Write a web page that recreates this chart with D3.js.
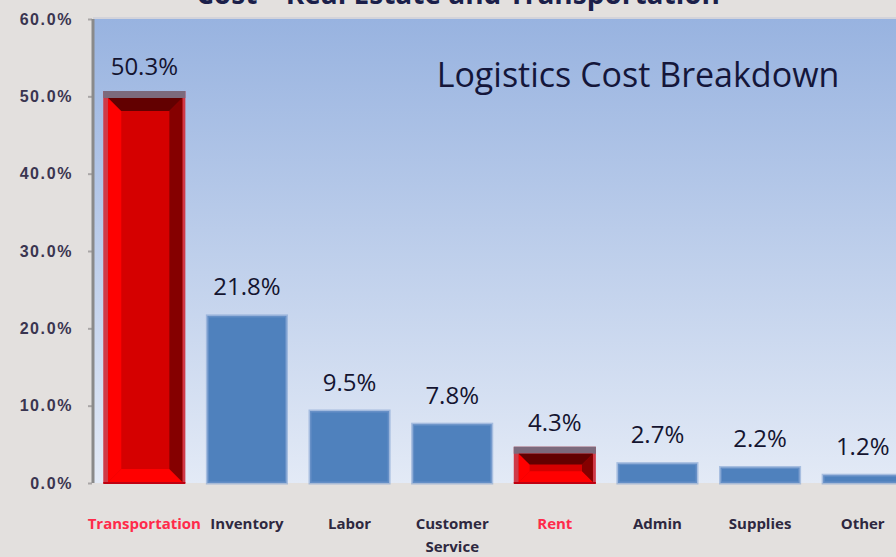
<!DOCTYPE html>
<html>
<head>
<meta charset="utf-8">
<script src="https://cdn.jsdelivr.net/npm/d3@7"></script>
<style>
  html, body { margin: 0; padding: 0; background: #e3e0de; overflow: hidden; }
  svg { display: block; font-family: "Open Sans", "Noto Sans", sans-serif; }
</style>
</head>
<body>
<div id="chart"></div>
<script>
// data
var categories = ["Transportation", "Inventory", "Labor", "Customer Service", "Rent", "Admin", "Supplies", "Other"];
var shares = [0.503, 0.218, 0.095, 0.078, 0.043, 0.027, 0.022, 0.012];
var highlighted = ["Transportation", "Rent"];
var yTicks = [0, 0.1, 0.2, 0.3, 0.4, 0.5, 0.6];
var chartTitle = "Cost \u2013 Real Estate and Transportation";
var innerTitle = "Logistics Cost Breakdown";

var width = 896, height = 557;
var margin = {top: 19, right: -18, bottom: 74, left: 93};

var data = categories.map(function(c, i) { return {name: c, value: shares[i]}; });

var svg = d3.select("#chart").append("svg")
  .attr("width", width)
  .attr("height", height);

var defs = svg.append("defs");
var grad = defs.append("linearGradient")
  .attr("id", "plotBg")
  .attr("x1", 0).attr("y1", 0).attr("x2", 0).attr("y2", 1);
grad.append("stop").attr("offset", "0%").attr("stop-color", "#98b3e0");
grad.append("stop").attr("offset", "100%").attr("stop-color", "#e3eaf6");

var x = d3.scaleBand()
  .domain(categories)
  .range([margin.left, width - margin.right])
  .paddingInner(0.2)
  .paddingOuter(0.1);

var y = d3.scaleLinear()
  .domain([0, 0.6])
  .range([height - margin.bottom, margin.top]);

// plot area
svg.append("rect")
  .attr("x", margin.left)
  .attr("y", y(0.6) - 2)
  .attr("width", width - margin.left)
  .attr("height", 2)
  .attr("fill", "#d3d3da");
svg.append("rect")
  .attr("x", margin.left)
  .attr("y", y(0.6))
  .attr("width", width - margin.left)
  .attr("height", y(0) - y(0.6))
  .attr("fill", "url(#plotBg)");

// page title, mostly cut off at the top (as in the source)
svg.append("text")
  .attr("x", 458)
  .attr("y", 4)
  .attr("text-anchor", "middle")
  .attr("font-size", 28)
  .attr("font-weight", "bold")
  .attr("fill", "#1b1f4a")
  .text(chartTitle);

// inner title
svg.append("text")
  .attr("x", 638)
  .attr("y", 87)
  .attr("text-anchor", "middle")
  .attr("font-size", 34)
  .attr("fill", "#14163a")
  .text(innerTitle);

// y axis
var yAxis = d3.axisLeft(y)
  .tickValues(yTicks)
  .tickFormat(d3.format(".1%"))
  .tickSize(4)
  .tickPadding(15);
var gy = svg.append("g")
  .attr("transform", "translate(" + (margin.left - 1) + ",0)")
  .call(yAxis);
gy.select(".domain").remove();
gy.selectAll(".tick line").attr("stroke", "#a9a6a6").attr("stroke-width", 2);
gy.selectAll(".tick text")
  .attr("font-size", 16)
  .attr("font-weight", "bold")
  .attr("letter-spacing", 1.6)
  .attr("fill", "#3a3550");
svg.append("line")
  .attr("x1", margin.left).attr("x2", margin.left)
  .attr("y1", y(0.6)).attr("y2", y(0))
  .attr("stroke", "#8a8a8a")
  .attr("stroke-width", 3);

// bars
var bars = svg.append("g");
data.forEach(function(d) {
  var x0 = x(d.name), w = x.bandwidth(), y0 = y(d.value), y1 = y(0), h = y1 - y0;
  if (highlighted.indexOf(d.name) < 0) {
    bars.append("rect")
      .attr("x", x0 + 1.5).attr("y", y0 + 1.5)
      .attr("width", w - 3).attr("height", h - 1.5)
      .attr("fill", "#4f81bd")
      .attr("stroke", "rgba(120,155,205,0.55)")
      .attr("stroke-width", 3);
    return;
  }
  // bevelled red bar
  var g = bars.append("g");
  g.append("rect")
    .attr("x", x0).attr("y", y0 - 3)
    .attr("width", w).attr("height", h + 3)
    .attr("fill", "#cf3a48");
  g.append("rect")
    .attr("x", x0).attr("y", y0 - 3)
    .attr("width", w).attr("height", 7)
    .attr("fill", "#7c6a7c");
  var ix0 = x0 + 5, ix1 = x0 + w - 3, iy0 = y0 + 4, iy1 = y1 - 1;
  var b = Math.min(13, (iy1 - iy0) / 2.6);
  var pts = function(a) { return a.map(function(p) { return p.join(","); }).join(" "); };
  g.append("rect")
    .attr("x", ix0).attr("y", iy0)
    .attr("width", ix1 - ix0).attr("height", iy1 - iy0)
    .attr("fill", "#d50000");
  // left face
  g.append("polygon").attr("fill", "#ff0000")
    .attr("points", pts([[ix0, iy0], [ix0 + b, iy0 + b], [ix0 + b, iy1 - b], [ix0, iy1]]));
  // bottom face
  g.append("polygon").attr("fill", "#ff0000")
    .attr("points", pts([[ix0, iy1], [ix0 + b, iy1 - b], [ix1 - b, iy1 - b], [ix1, iy1]]));
  // right face
  g.append("polygon").attr("fill", "#850000")
    .attr("points", pts([[ix1, iy0], [ix1 - b, iy0 + b], [ix1 - b, iy1 - b], [ix1, iy1]]));
  // top face
  g.append("polygon").attr("fill", "#620000")
    .attr("points", pts([[ix0, iy0], [ix1, iy0], [ix1 - b, iy0 + b], [ix0 + b, iy0 + b]]));
  g.append("rect")
    .attr("x", x0).attr("y", iy1)
    .attr("width", w).attr("height", 2)
    .attr("fill", "#c00010");
});

// value labels
svg.append("g").selectAll("text")
  .data(data)
  .join("text")
  .attr("x", function(d) { return x(d.name) + x.bandwidth() / 2; })
  .attr("y", function(d) { return y(d.value) - 19; })
  .attr("text-anchor", "middle")
  .attr("font-size", 24)
  .attr("fill", "#141430")
  .text(function(d) { return d3.format(".1%")(d.value); });

// category labels
var xLabels = svg.append("g").selectAll("text")
  .data(data)
  .join("text")
  .attr("x", function(d) { return x(d.name) + x.bandwidth() / 2; })
  .attr("y", 529)
  .attr("text-anchor", "middle")
  .attr("font-size", 15)
  .attr("font-weight", "bold")
  .attr("fill", function(d) { return highlighted.indexOf(d.name) >= 0 ? "#ff2a4a" : "#2e2840"; });
xLabels.each(function(d) {
  var words = d.name.split(" ");
  var t = d3.select(this);
  var cx = x(d.name) + x.bandwidth() / 2;
  words.forEach(function(wd, i) {
    t.append("tspan").attr("x", cx).attr("dy", i ? 23 : 0).text(wd);
  });
});
</script>
</body>
</html>
